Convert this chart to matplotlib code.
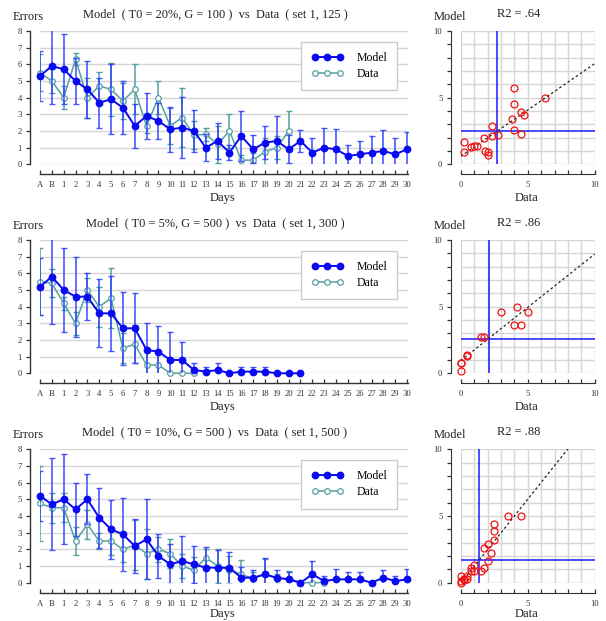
import numpy as np
import matplotlib
matplotlib.use("Agg")
import matplotlib.pyplot as plt
from matplotlib.ticker import MultipleLocator

plt.rcParams['font.family'] = ['Liberation Serif', 'DejaVu Serif']

cats = ['A', 'B'] + [str(i) for i in range(1, 31)]

titles = ['Model  ( T0 = 20%, G = 100 )  vs  Data  ( set 1, 125 )',
          'Model  ( T0 = 5%, G = 500 )  vs  Data  ( set 1, 300 )',
          'Model  ( T0 = 10%, G = 500 )  vs  Data  ( set 1, 500 )']
r2_labels = ['R2 = .64', 'R2 = .86', 'R2 = .88']

m1 = [5.3, 5.9, 5.7, 5.0, 4.5, 3.7, 3.9, 3.4, 2.3, 2.9, 2.6, 2.1, 2.2, 2.0, 1.0, 1.4,
      0.7, 1.7, 0.9, 1.3, 1.4, 0.9, 1.4, 0.7, 1.0, 0.9, 0.5, 0.6, 0.7, 0.8, 0.6, 0.9]
m1_err = [1.5, 2.3, 2.1, 1.4, 1.7, 1.5, 2.1, 1.6, 1.3, 1.4, 1.1, 1.35, 1.85, 1.25, 0.8, 1.1,
          0.45, 1.5, 0.85, 1.0, 1.5, 0.85, 0.65, 0.9, 1.2, 1.2, 0.65, 0.8, 1.0, 1.25, 1.0, 1.05]
d1 = [5.5, 5.0, 4.0, 6.3, 4.0, 4.7, 4.5, 3.8, 4.5, 2.3, 4.0, 2.3, 2.8, 1.75, 1.8, 1.2,
      2.0, 0.25, 0.25, 0.75, 1.0, 2.0]
d1_err = [1.1, 0.7, 0.7, 0.35, 1.2, 0.85, 1.6, 1.1, 1.5, 0.4, 1.0, 1.1, 1.75, 0.85, 0.4, 1.1,
          1.0, 0.3, 0.4, 0.8, 0.7, 1.2]

m2 = [5.2, 5.8, 5.0, 4.6, 4.6, 3.6, 3.6, 2.7, 2.7, 1.4, 1.3, 0.8, 0.8, 0.2, 0.1, 0.2,
      0.0, 0.1, 0.1, 0.1, 0.0, 0.0, 0.0]
m2_err = [1.7, 2.85, 2.5, 2.4, 1.4, 2.05, 2.25, 2.2, 2.1, 1.6, 1.55, 1.7, 1.1, 0.4, 0.3, 0.4,
          0.0, 0.3, 0.3, 0.3, 0.0, 0.0, 0.0]
d2 = [5.5, 5.4, 4.2, 3.0, 5.0, 4.0, 4.5, 1.5, 1.75, 0.5, 0.5, 0.0, 0.0, 0.0]
d2_err = [2.0, 0.85, 0.4, 0.7, 0.7, 1.2, 1.8, 0.9, 1.15, 0.9, 0.9, 0.0, 0.0, 0.0]

m3 = [5.2, 4.7, 5.0, 4.4, 5.0, 3.9, 3.2, 2.9, 2.2, 2.6, 1.6, 1.1, 1.3, 1.1, 0.9, 0.9,
      0.9, 0.3, 0.3, 0.5, 0.3, 0.2, 0.0, 0.5, 0.1, 0.2, 0.2, 0.2, 0.0, 0.3, 0.1, 0.2]
m3_err = [1.5, 2.75, 2.7, 1.6, 1.5, 1.8, 1.75, 2.2, 1.6, 2.4, 1.3, 1.2, 1.5, 1.1, 1.25, 1.05,
          0.95, 0.65, 0.45, 1.0, 0.45, 0.45, 0.0, 0.8, 0.3, 0.6, 0.45, 0.45, 0.0, 0.45, 0.3, 0.6]
d3 = [4.75, 4.5, 4.5, 2.5, 3.5, 2.5, 2.5, 2.0, 2.25, 1.75, 2.0, 1.75, 1.0, 0.75, 1.5, 1.0,
      0.75, 0.5, 0.25, 0.5, 0.25, 0.25, 0.0, 0.0, 0.0]
d3_err = [2.25, 0.9, 0.85, 0.85, 0.85, 0.5, 0.85, 0.75, 1.5, 1.5, 0.75, 0.85, 0.7, 0.8, 0.5, 1.0,
          0.85, 0.85, 0.4, 0.9, 0.3, 0.45, 0.0, 0.0, 0.0]

models = [m1, m2, m3]
model_errs = [m1_err, m2_err, m3_err]
datas = [d1, d2, d3]
data_errs = [d1_err, d2_err, d3_err]

W, H = 606, 621
fig = plt.figure(figsize=(W / 100, H / 100), dpi=100)

BLUE = '#0a0af2'
BLUE_ERR = '#2a3cff'
TEAL = '#55a0a0'
GRID = '#d6d6d6'
TXT = '#222222'

def px_axes(left, top, right, bottom):
    return fig.add_axes([left / W, 1 - bottom / H, (right - left) / W, (bottom - top) / H])

tops = [31, 240, 449.3]
bots = [164.3, 373.3, 582.7]
xlab_gap = [37, 37, 34.5]
off = 7.2  # 10 px outward

for k in range(3):
    top, bot = tops[k], bots[k]
    ax = px_axes(40, top, 408, bot)
    m = np.array(models[k]); me = np.array(model_errs[k])
    d = np.array(datas[k]); de = np.array(data_errs[k])
    xm = np.arange(len(m)); xd = np.arange(len(d))

    for y in range(0, 9):
        ax.axhline(y, color=GRID, lw=1.0, zorder=0)

    ax.errorbar(xd, d, yerr=de, fmt='none', ecolor=TEAL, elinewidth=1.1,
                capsize=2.2, capthick=1.0, zorder=2)
    ax.plot(xd, d, '-', color=TEAL, lw=1.1, marker='o', ms=4, mfc='white',
            mec=TEAL, mew=0.9, clip_on=False, zorder=3, label='Data')
    ax.errorbar(xm, m, yerr=me, fmt='none', ecolor=BLUE_ERR, elinewidth=1.2,
                capsize=2.2, capthick=1.0, alpha=0.85, zorder=4)
    ax.plot(xm, m, '-', color=BLUE, lw=1.4, marker='o', ms=4.6, mfc=BLUE,
            mec=BLUE, clip_on=False, zorder=5, label='Model')

    ax.set_xlim(0, 31.08)
    ax.set_ylim(0, 8)
    for s in ['top', 'right']:
        ax.spines[s].set_visible(False)
    ax.spines['left'].set_position(('outward', off))
    ax.spines['bottom'].set_position(('outward', off))
    ax.spines['left'].set_color('#333333')
    ax.spines['bottom'].set_color('#333333')
    ax.spines['left'].set_linewidth(1.0)
    ax.spines['bottom'].set_linewidth(1.0)
    ax.set_xticks(np.arange(len(cats)))
    ax.set_xticklabels(cats)
    ax.set_yticks(range(0, 9))
    ax.tick_params(axis='x', direction='in', length=3, width=0.9, pad=5,
                   labelsize=6.2, colors='#333333')
    ax.tick_params(axis='y', direction='out', length=3, width=0.9, pad=3,
                   labelsize=6.2, colors='#333333')
    ax.patch.set_visible(False)

    h, l = ax.get_legend_handles_labels()
    order = [l.index('Model'), l.index('Data')]
    leg = ax.legend([h[i] for i in order], [l[i] for i in order],
                    loc='upper right',
                    bbox_to_anchor=((397 - 40) / 368, 1 - 11 / (bot - top)),
                    borderaxespad=0, numpoints=3, handlelength=2.7, handletextpad=1.1,
                    borderpad=0.85, labelspacing=0.35, fontsize=8.5, frameon=True,
                    fancybox=False, edgecolor='#cccccc', framealpha=1)
    leg.get_frame().set_linewidth(1.0)

    fig.text(215 / W, 1 - (top - 17) / H, titles[k], ha='center', va='center',
             fontsize=8.9, color=TXT)
    fig.text(13 / W, 1 - (top - 14) / H, 'Errors', ha='left', va='center',
             fontsize=9, color=TXT)
    fig.text(223 / W, 1 - (bot + xlab_gap[k]) / H, 'Days', ha='center', va='baseline',
             fontsize=9, color=TXT)

    # scatter panel: pairs for days 1..n (A and B excluded)
    n = len(d) - 2
    xs = d[2:2 + n]
    ys = m[2:2 + n]
    sx = px_axes(460.7, top, 594.7, bot)
    sx.set_xlim(0, 10)
    sx.set_ylim(0, 10)
    sx.xaxis.set_major_locator(MultipleLocator(5))
    sx.yaxis.set_major_locator(MultipleLocator(5))
    sx.xaxis.set_minor_locator(MultipleLocator(1))
    sx.yaxis.set_minor_locator(MultipleLocator(1))
    sx.grid(True, which='both', color=GRID, lw=1.0, zorder=0)
    sx.set_axisbelow(True)
    for s in ['top', 'right']:
        sx.spines[s].set_visible(False)
    sx.spines['left'].set_position(('outward', off))
    sx.spines['bottom'].set_position(('outward', off))
    sx.spines['left'].set_color('#333333')
    sx.spines['bottom'].set_color('#333333')
    sx.tick_params(axis='x', which='both', direction='in', length=3, width=0.9, pad=5,
                   labelsize=6.2, colors='#333333')
    sx.tick_params(axis='y', which='both', direction='out', length=3, width=0.9, pad=3,
                   labelsize=6.2, colors='#333333')
    sx.patch.set_visible(False)

    sx.axvline(xs.mean(), color='#1a1aff', lw=1.1, zorder=3)
    sx.axhline(ys.mean(), color='#1a1aff', lw=1.1, zorder=3)
    slope, icpt = np.polyfit(xs, ys, 1)
    lx = np.array([0, 10.0])
    sx.plot(lx, icpt + slope * lx, color='#222222', lw=0.9, dashes=(2, 2), zorder=4)
    sx.plot(xs, ys, 'o', ms=5, mfc='none', mec='#ee1111', mew=0.9, zorder=5, clip_on=False)

    fig.text(519 / W, 1 - (top - 17) / H, r2_labels[k], ha='center', va='center',
             fontsize=8.9, color=TXT)
    fig.text(434 / W, 1 - (top - 14) / H, 'Model', ha='left', va='center',
             fontsize=9, color=TXT)
    fig.text(527 / W, 1 - (bot + xlab_gap[k]) / H, 'Data', ha='center', va='baseline',
             fontsize=9, color=TXT)

fig.savefig('out.png', dpi=100)
